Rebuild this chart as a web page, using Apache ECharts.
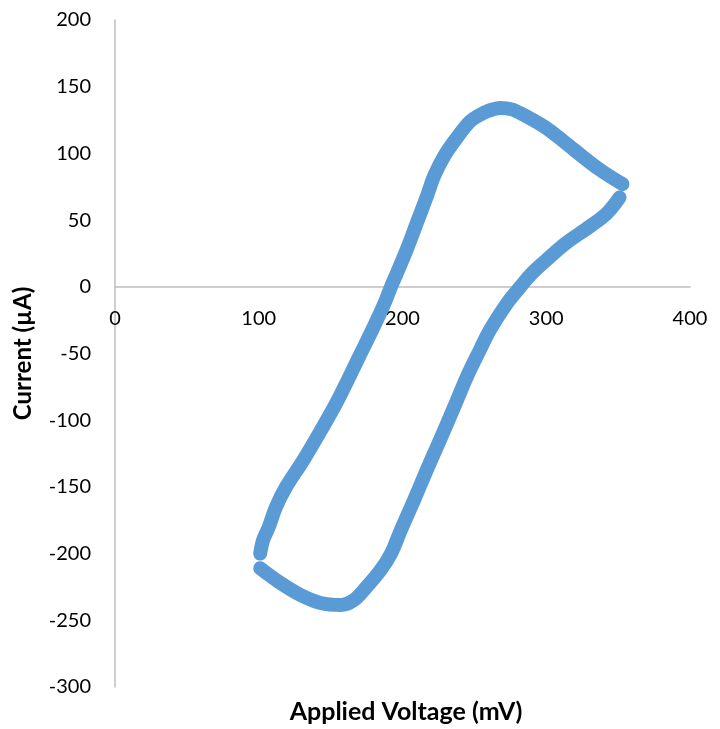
<!DOCTYPE html>
<html>
<head>
<meta charset="utf-8">
<script src="https://cdn.jsdelivr.net/npm/echarts@6/dist/echarts.min.js"></script>
<style>
  html, body { margin: 0; padding: 0; background: #fff; }
  #chart { width: 720px; height: 729px; }
</style>
</head>
<body>
<div id="chart"></div>
<script>
// Cyclic voltammogram: forward sweep (100 -> 350 mV) and return sweep (350 -> 100 mV)
const forwardVoltage = [101, 103, 107, 112, 119, 131, 142, 154, 161, 170, 180, 188, 192, 196, 203, 210, 217, 222, 229, 238, 247, 254, 260, 268, 276, 284, 300, 319, 337, 353];
const forwardCurrent = [-200, -190, -180, -165, -150, -130, -110, -87, -72, -52, -30, -11, 0, 10, 28, 48, 68, 83, 98, 112, 124, 129, 132, 134, 133, 129, 119, 103, 88, 77];

const returnVoltage = [351, 342, 330, 314, 300, 289, 282, 273, 261, 254, 245, 236, 226, 217, 208, 199, 192, 185, 175, 166, 157, 143, 129, 115, 101];
const returnCurrent = [67, 55, 45, 33, 20, 9, 0, -12, -32, -47, -67, -90, -115, -137, -160, -182, -200, -212, -225, -235, -238.5, -237, -231, -222, -211];

const xTicks = { min: 0, max: 400, step: 100 };
const yTicks = { min: -300, max: 200, step: 50 };

const xTitle = 'Applied Voltage (mV)';
const yTitle = 'Current (µA)';

const pairs = (xs, ys) => xs.map((x, i) => [x, ys[i]]);

const FONT = 'Lato, "Open Sans", sans-serif';
const BLUE = '#5B9BD5';
const AXIS = '#BFBFBF';

const W = 720, H = 729;
const GRID = { left: 115, right: 30, top: 20, bottom: 42 };
// the horizontal axis runs through current = 0: lift it from the grid bottom
const plotH = H - GRID.top - GRID.bottom;
const zeroLift = plotH * (0 - yTicks.min) / (yTicks.max - yTicks.min);

const sweepStyle = {
  type: 'line',
  smooth: 0.35,
  showSymbol: false,
  symbol: 'none',
  lineStyle: { color: BLUE, width: 14, cap: 'round', join: 'round' },
  silent: true,
  z: 5
};

const chart = echarts.init(document.getElementById('chart'));
chart.setOption({
  animation: false,
  backgroundColor: '#fff',
  grid: Object.assign({ containLabel: false, outerBoundsMode: 'none' }, GRID),
  xAxis: {
    type: 'value',
    min: xTicks.min,
    max: xTicks.max,
    interval: xTicks.step,
    position: 'bottom',
    offset: -zeroLift,
    axisLine: { onZero: false, lineStyle: { color: AXIS, width: 1.5 } },
    axisTick: { show: false },
    splitLine: { show: false },
    axisLabel: { color: '#000', fontFamily: FONT, fontSize: 20, margin: 22 }
  },
  yAxis: {
    type: 'value',
    min: yTicks.min,
    max: yTicks.max,
    interval: yTicks.step,
    axisLine: { show: true, onZero: false, lineStyle: { color: AXIS, width: 1.5 } },
    axisTick: { show: false },
    splitLine: { show: false },
    axisLabel: { color: '#000', fontFamily: FONT, fontSize: 20, margin: 24 },
    name: yTitle,
    nameLocation: 'middle',
    nameGap: 80,
    nameRotate: 90,
    nameTextStyle: { color: '#000', fontFamily: FONT, fontSize: 24, fontWeight: 'bold' }
  },
  graphic: [{
    type: 'text',
    x: 406,
    y: 712,
    style: {
      text: xTitle,
      fill: '#000',
      font: 'bold 25px ' + FONT,
      textAlign: 'center',
      textVerticalAlign: 'middle'
    }
  }],
  series: [
    Object.assign({ name: 'forward', data: pairs(forwardVoltage, forwardCurrent) }, sweepStyle),
    Object.assign({ name: 'return', data: pairs(returnVoltage, returnCurrent) }, sweepStyle)
  ]
});
</script>
</body>
</html>
